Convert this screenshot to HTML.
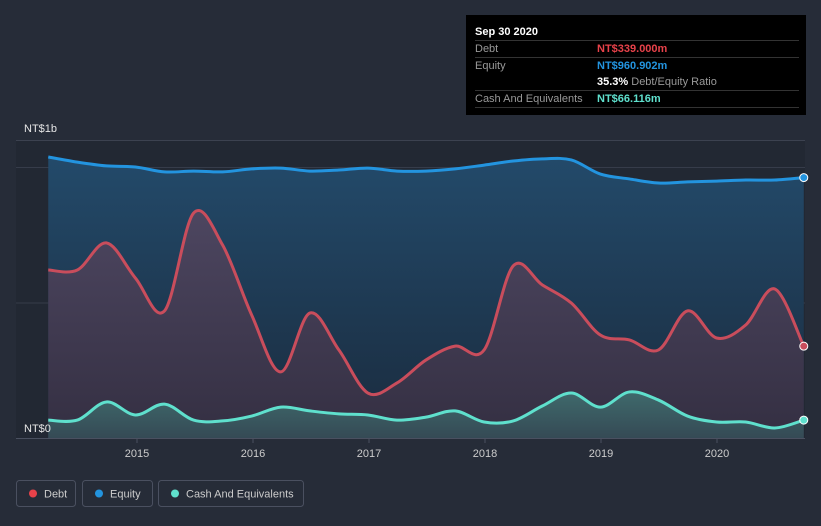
<!DOCTYPE html>
<html><head><meta charset="utf-8"><style>
body{margin:0;background:#262c38;font-family:"Liberation Sans",sans-serif;}
svg{display:block}
</style></head><body>
<svg id="c" width="821" height="526">
<defs>
<linearGradient id="eqG" x1="0" y1="0" x2="0" y2="1"><stop offset="0" stop-color="#234a6a"/><stop offset="1" stop-color="#1a2b3e"/></linearGradient>
<linearGradient id="dG" x1="0" y1="0" x2="0" y2="1"><stop offset="0" stop-color="#4d4660"/><stop offset="1" stop-color="#342f42"/></linearGradient>
<linearGradient id="cG" x1="0" y1="0" x2="0" y2="1"><stop offset="0" stop-color="#3f6a6c"/><stop offset="1" stop-color="#354a55"/></linearGradient>
</defs>
<rect x="16" y="140" width="789" height="298" fill="#222833"/>
<g id="grid"></g>
<g id="series"></g>
<g id="axis"></g>
<text x="24" y="132" fill="#e6e6e6" font-size="11">NT$1b</text>
<text x="24" y="432" fill="#e6e6e6" font-size="11">NT$0</text>
<g>
<rect x="466" y="15" width="340" height="100" fill="#000"/>
<text x="475" y="35" fill="#fff" font-size="11" font-weight="bold">Sep 30 2020</text>
<line x1="475" y1="40.5" x2="799" y2="40.5" stroke="#333"/>
<text x="475" y="52" fill="#999" font-size="11">Debt</text>
<text x="597" y="52" fill="#e8424a" font-size="11" font-weight="bold">NT$339.000m</text>
<line x1="475" y1="57.5" x2="799" y2="57.5" stroke="#333"/>
<text x="475" y="69" fill="#999" font-size="11">Equity</text>
<text x="597" y="69" fill="#2394df" font-size="11" font-weight="bold">NT$960.902m</text>
<text x="597" y="85" fill="#fff" font-size="11" font-weight="bold">35.3% <tspan fill="#999" font-weight="normal">Debt/Equity Ratio</tspan></text>
<line x1="475" y1="90.5" x2="799" y2="90.5" stroke="#333"/>
<text x="475" y="102" fill="#999" font-size="11">Cash And Equivalents</text>
<text x="597" y="102" fill="#5fe0cd" font-size="11" font-weight="bold">NT$66.116m</text>
<line x1="475" y1="107.5" x2="799" y2="107.5" stroke="#333"/>
</g>
<g>
<g><rect x="16.5" y="480.5" width="59" height="26" rx="3" fill="none" stroke="#4a5060"/><circle cx="33" cy="493.5" r="4" fill="#e8424a"/><text x="44" y="497.5" fill="#ccc" font-size="11">Debt</text></g>
<g><rect x="82.5" y="480.5" width="70" height="26" rx="3" fill="none" stroke="#4a5060"/><circle cx="99" cy="493.5" r="4" fill="#2394df"/><text x="110" y="497.5" fill="#ccc" font-size="11">Equity</text></g>
<g><rect x="158.5" y="480.5" width="145" height="26" rx="3" fill="none" stroke="#4a5060"/><circle cx="175" cy="493.5" r="4" fill="#5fe0cd"/><text x="186" y="497.5" fill="#ccc" font-size="11">Cash And Equivalents</text></g>
</g>
</svg>
<script>
const startYear = 2014.235, stepYear = 0.2505;
const debt = [620,620,720,590,469,830,712,454,244,461,325,166,203,288,339,325,635,565,498,380,362,325,469,369,417,550,339];
const equity = [1037,1018,1004,1000,982,985,982,993,996,985,989,996,985,985,993,1007,1022,1030,1026,974,956,941,945,948,952,952,961];
const cash = [66,66,133,85,125,66,63,81,114,100,89,85,66,77,100,59,63,118,166,114,170,140,81,59,59,37,66];
const yearTicks = [2015,2016,2017,2018,2019,2020];
const gridVals = [0,500,1000];
const NS='http://www.w3.org/2000/svg';
const X = t => 137 + (t-2015)*116;
const Y = v => 438 - v*0.271;
function pts(arr){return arr.map((v,i)=>[X(startYear+i*stepYear),Y(v)]);}
function curve(p){
  let d='M'+p[0][0]+','+p[0][1];
  for(let i=0;i<p.length-1;i++){
    const p0=p[Math.max(0,i-1)],p1=p[i],p2=p[i+1],p3=p[Math.min(p.length-1,i+2)];
    const c1x=p1[0]+(p2[0]-p0[0])/6,c1y=p1[1]+(p2[1]-p0[1])/6;
    const c2x=p2[0]-(p3[0]-p1[0])/6,c2y=p2[1]-(p3[1]-p1[1])/6;
    d+=` C${c1x},${c1y} ${c2x},${c2y} ${p2[0]},${p2[1]}`;
  }
  return d;
}
function mk(tag,attrs,parent){const e=document.createElementNS(NS,tag);for(const k in attrs)e.setAttribute(k,attrs[k]);parent.appendChild(e);return e;}
const grid=document.getElementById('grid');
const tl=mk('line',{x1:16,x2:805,y1:140.5,y2:140.5,stroke:'#3c4250'},grid);


gridVals.forEach(v=>{
  const l=mk('line',{x1:16,x2:805,y1:Y(v)+0.5,y2:Y(v)+0.5,stroke:v===0?'#4a5060':'#363c4a'},grid);
  
  
});
const s=document.getElementById('series');
function series(arr,fill,stroke,name){
  const p=pts(arr);const c=curve(p);
  const a=mk('path',{d:c+` L${p[p.length-1][0]},438 L${p[0][0]},438 Z`,fill:fill},s);
  
  
  const l=mk('path',{d:c,fill:'none',stroke:stroke,'stroke-width':3},s);
  
  
  const e=p[p.length-1];
  const dot=mk('circle',{cx:e[0],cy:e[1],r:4,fill:stroke,stroke:'#fff','stroke-width':1},s);
  
  
}
series(equity,'url(#eqG)','#2394df','equity');
series(debt,'url(#dG)','#c94d5c','debt');
series(cash,'url(#cG)','#5fe0cd','cash');
const ax=document.getElementById('axis');
yearTicks.forEach(y=>{
  const t=mk('line',{x1:X(y),x2:X(y),y1:438,y2:443,stroke:'#4a5060'},ax);
  
  
  const tx=mk('text',{x:X(y),y:457,fill:'#ccc','font-size':11,'text-anchor':'middle'},ax);
  tx.textContent=y;
  
  
});
</script>
</body></html>
